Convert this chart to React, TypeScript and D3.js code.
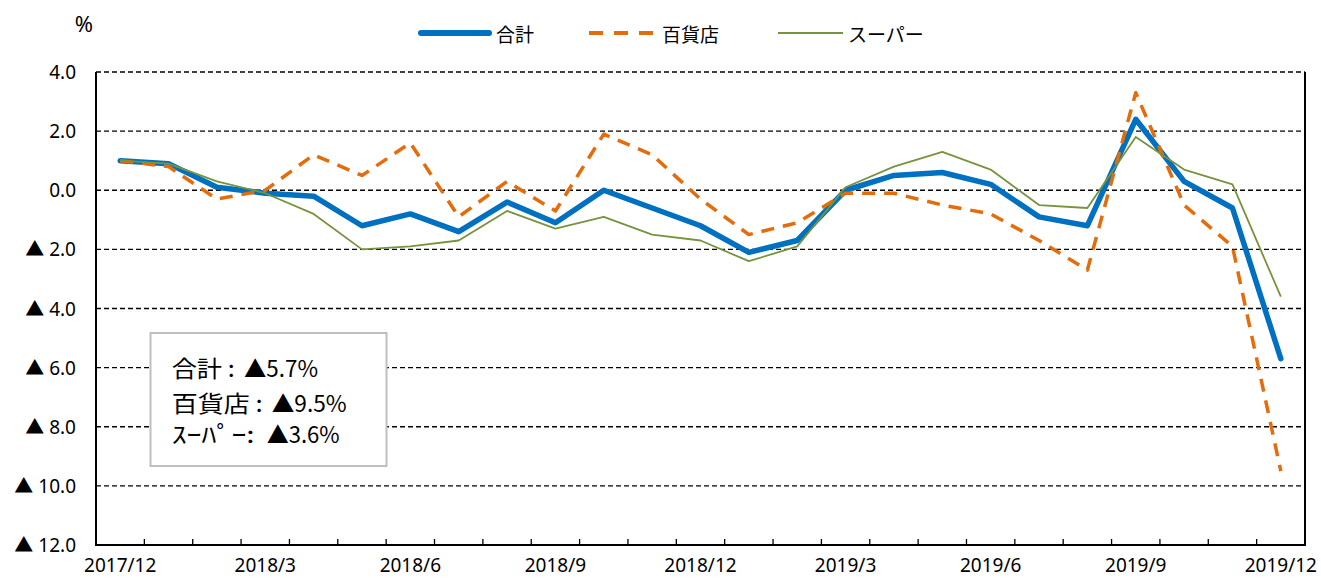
import React from "react";
import * as d3 from "d3";

const categories = [
  "2017/12", "2018/1", "2018/2", "2018/3", "2018/4", "2018/5", "2018/6", "2018/7", "2018/8", "2018/9",
  "2018/10", "2018/11", "2018/12", "2019/1", "2019/2", "2019/3", "2019/4", "2019/5", "2019/6", "2019/7",
  "2019/8", "2019/9", "2019/10", "2019/11", "2019/12",
];
const totalValues = [1.0, 0.9, 0.1, -0.1, -0.2, -1.2, -0.8, -1.4, -0.4, -1.1, 0.0, -0.6, -1.2, -2.1, -1.7, 0.0, 0.5, 0.6, 0.2, -0.9, -1.2, 2.4, 0.3, -0.6, -5.7];
const deptValues = [1.0, 0.8, -0.3, 0.0, 1.2, 0.5, 1.6, -0.9, 0.3, -0.7, 1.9, 1.2, -0.3, -1.5, -1.1, -0.1, -0.1, -0.5, -0.8, -1.7, -2.7, 3.3, -0.5, -1.9, -9.5];
const superValues = [1.0, 0.9, 0.3, -0.1, -0.8, -2.0, -1.9, -1.7, -0.7, -1.3, -0.9, -1.5, -1.7, -2.4, -1.9, 0.1, 0.8, 1.3, 0.7, -0.5, -0.6, 1.8, 0.7, 0.2, -3.6];
const yTicks = [4, 2, 0, -2, -4, -6, -8, -10, -12];
const xLabelEvery = 3;
const seriesNames = ["合計", "百貨店", "スーパー"];
const noteLabels = ["合計 :", "百貨店 :", "ｽｰﾊﾟｰ:"];
const noteValues = ["▲5.7%", "▲9.5%", "▲3.6%"];
const unitLabel = "%";

const W = 1321;
const H = 578;
const L = 96, R = 1305, T = 72, B = 545;
const FONT = "'Noto Sans', 'Noto Sans CJK JP', sans-serif";
const CJK = "'Noto Sans CJK JP', sans-serif";

const colors = ["#0070C0", "#E46C0A", "#77933C"];

export default function App() {
  const x = d3.scaleBand<string>().domain(categories).range([L, R]).padding(0);
  const y = d3.scaleLinear().domain([-12, 4]).range([B, T]);
  const cx = (c: string) => (x(c) as number) + x.bandwidth() / 2;
  const line = d3
    .line<number>()
    .x((_, i) => cx(categories[i]))
    .y((v) => y(v));

  const fmt = (v: number) => (v < 0 ? `▲ ${Math.abs(v).toFixed(1)}` : v.toFixed(1));

  const series = [
    { vals: totalValues, color: colors[0], width: 5.5, dash: undefined as string | undefined, cap: "round" },
    { vals: deptValues, color: colors[1], width: 3.5, dash: "13,9", cap: "butt" },
    { vals: superValues, color: colors[2], width: 1.8, dash: undefined, cap: "butt" },
  ];

  const legend = [
    { x1: 421, x2: 489, tx: 496 },
    { x1: 589, x2: 655, tx: 662 },
    { x1: 778, x2: 843, tx: 848 },
  ];

  const noteBaselines = [377, 412, 443];
  const noteLabelLen = [63, 91, 83];
  const noteValueX = [244, 271.7, 266.7];
  const noteValueLen = [74, 75, 73];

  return (
    <svg width={W} height={H} style={{ position: "absolute", left: 0, top: 0, background: "#fff" }}>
      <rect x={0} y={0} width={W} height={H} fill="#fff" />
      {/* gridlines */}
      {yTicks
        .filter((v) => v > -12)
        .map((v) => (
          <line key={v} x1={L} x2={R} y1={y(v)} y2={y(v)} stroke="#000" strokeWidth={1.4} strokeDasharray="5,3" />
        ))}
      {/* axes */}
      <line x1={L} x2={L} y1={T} y2={B} stroke="#000" strokeWidth={2} />
      <line x1={R} x2={R} y1={T} y2={B} stroke="#000" strokeWidth={2} />
      <line x1={L - 1} x2={R + 1} y1={B} y2={B} stroke="#000" strokeWidth={2} />
      {categories.slice(1).map((c) => (
        <line key={c} x1={x(c) as number} x2={x(c) as number} y1={B} y2={B - 6} stroke="#000" strokeWidth={1.3} />
      ))}
      {/* y labels */}
      {yTicks.map((v) => (
        <text key={v} x={76} y={y(v)} textAnchor="end" dominantBaseline="central" fontFamily={FONT} fontSize={19} fill="#000">
          {fmt(v)}
        </text>
      ))}
      {/* x labels */}
      {categories.map((c, i) =>
        i % xLabelEvery === 0 ? (
          <text key={c} x={cx(c)} y={572} textAnchor="middle" fontFamily={FONT} fontSize={19} fill="#000">
            {c}
          </text>
        ) : null
      )}
      <text x={84} y={23} textAnchor="middle" dominantBaseline="central" fontFamily={FONT} fontSize={22} fill="#000">
        {unitLabel}
      </text>
      {/* series */}
      {series.map((s, i) => (
        <path
          key={i}
          d={line(s.vals) || ""}
          fill="none"
          stroke={s.color}
          strokeWidth={s.width}
          strokeDasharray={s.dash}
          strokeLinejoin="round"
          strokeLinecap={s.cap as any}
        />
      ))}
      {/* legend */}
      {seriesNames.map((n, i) => (
        <g key={n}>
          <line
            x1={legend[i].x1}
            x2={legend[i].x2}
            y1={33}
            y2={33}
            stroke={series[i].color}
            strokeWidth={i === 0 ? 6 : i === 1 ? 4 : 1.8}
            strokeDasharray={i === 1 ? "14,11" : undefined}
            strokeLinecap={i === 0 ? "round" : "butt"}
          />
          <text x={legend[i].tx} y={33.5} dominantBaseline="central" fontFamily={CJK} fontSize={19} fill="#000">
            {n}
          </text>
        </g>
      ))}
      {/* annotation */}
      <rect x={150.5} y={333} width={236} height={133} fill="#fff" stroke="#bfbfbf" strokeWidth={2} />
      {noteLabels.map((lab, i) => (
        <g key={lab}>
          <text
            x={171.7}
            y={noteBaselines[i]}
            fontFamily={CJK}
            fontSize={23}
            textLength={noteLabelLen[i]}
            lengthAdjust="spacingAndGlyphs"
            fill="#000"
          >
            {lab}
          </text>
          <text
            x={noteValueX[i]}
            y={noteBaselines[i]}
            fontFamily={CJK}
            fontSize={23}
            textLength={noteValueLen[i]}
            lengthAdjust="spacingAndGlyphs"
            fill="#000"
          >
            {noteValues[i]}
          </text>
        </g>
      ))}
    </svg>
  );
}
